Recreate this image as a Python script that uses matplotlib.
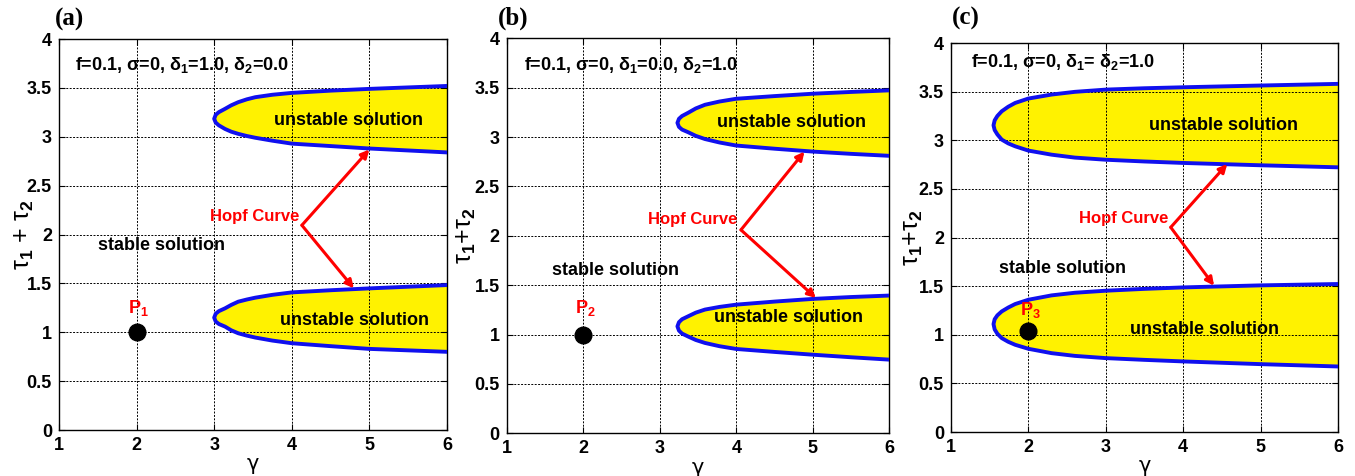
import matplotlib
matplotlib.use('Agg')
import matplotlib.pyplot as plt

plt.rcParams['font.family'] = ['Liberation Sans', 'DejaVu Sans']
plt.rcParams['font.weight'] = 'bold'
plt.rcParams['mathtext.fontset'] = 'custom'
plt.rcParams['mathtext.rm'] = 'Liberation Sans:bold'
plt.rcParams['mathtext.it'] = 'Liberation Sans:bold'
plt.rcParams['mathtext.bf'] = 'Liberation Sans:bold'

# ---- Hopf boundaries (gamma, tau1+tau2) for each case ----
# (a) delta1=1.0, delta2=0.0
gam_a = [3.0, 3.02, 3.06, 3.14, 3.22, 3.31, 3.42, 3.53, 3.75, 4.0, 4.5, 5.0, 5.5, 6.0]
top_hi_a = [3.184, 3.225, 3.252, 3.286, 3.322, 3.354, 3.383, 3.405, 3.43, 3.449, 3.472, 3.49, 3.505, 3.52]
top_lo_a = [3.184, 3.145, 3.117, 3.08, 3.052, 3.03, 3.008, 2.99, 2.96, 2.93, 2.905, 2.88, 2.86, 2.84]
bot_hi_a = [1.15, 1.19, 1.216, 1.245, 1.28, 1.313, 1.335, 1.354, 1.383, 1.408, 1.43, 1.449, 1.466, 1.483]
bot_lo_a = [1.15, 1.11, 1.085, 1.058, 1.02, 0.99, 0.966, 0.946, 0.915, 0.888, 0.858, 0.83, 0.815, 0.80]

# (b) delta1=0.0, delta2=1.0
gam_b = [3.23, 3.25, 3.29, 3.37, 3.47, 3.59, 3.78, 4.0, 4.5, 5.0, 5.5, 6.0]
top_hi_b = [3.144, 3.185, 3.213, 3.246, 3.29, 3.327, 3.36, 3.388, 3.415, 3.439, 3.457, 3.473]
top_lo_b = [3.144, 3.103, 3.076, 3.049, 3.012, 2.98, 2.945, 2.914, 2.882, 2.853, 2.83, 2.81]
bot_hi_b = [1.083, 1.125, 1.155, 1.185, 1.222, 1.253, 1.28, 1.303, 1.334, 1.361, 1.38, 1.395]
bot_lo_b = [1.083, 1.04, 1.01, 0.98, 0.945, 0.915, 0.882, 0.854, 0.824, 0.796, 0.77, 0.746]

# (c) delta1=delta2=1.0
gam_c = [1.55, 1.565, 1.6, 1.656, 1.74, 1.83, 2.0, 2.3, 2.6, 3.0, 3.5, 4.0, 5.0, 6.0]
top_hi_c = [3.154, 3.205, 3.25, 3.298, 3.345, 3.384, 3.429, 3.47, 3.498, 3.521, 3.535, 3.545, 3.563, 3.58]
top_lo_c = [3.154, 3.105, 3.06, 3.007, 2.968, 2.938, 2.894, 2.852, 2.822, 2.80, 2.782, 2.767, 2.743, 2.722]
bot_hi_c = [1.11, 1.16, 1.20, 1.24, 1.28, 1.316, 1.36, 1.405, 1.432, 1.453, 1.472, 1.487, 1.508, 1.522]
bot_lo_c = [1.11, 1.055, 1.01, 0.966, 0.928, 0.897, 0.856, 0.811, 0.783, 0.76, 0.742, 0.726, 0.698, 0.674]

# test points P1, P2, P3
pts = [(2.0, 1.0), (2.0, 1.0), (2.0, 1.034)]

xticks = [1, 2, 3, 4, 5, 6]
yticks = [0, 0.5, 1, 1.5, 2, 2.5, 3, 3.5, 4]
yticklabels = ['0', '0.5', '1', '1.5', '2', '2.5', '3', '3.5', '4']

params = ['f=0.1, σ=0, δ$_1$=1.0, δ$_2$=0.0',
          'f=0.1, σ=0, δ$_1$=0.0, δ$_2$=1.0',
          'f=0.1, σ=0, δ$_1$= δ$_2$=1.0']
ylabels = ['τ$_1$ + τ$_2$', 'τ$_1$+τ$_2$', 'τ$_1$+τ$_2$']

panels = [
    dict(gam=gam_a, lobes=[(top_hi_a, top_lo_a), (bot_hi_a, bot_lo_a)],
         pos=[0.0435, 0.0966, 0.2864, 0.8214], tag='(a)', tagx=-0.01, tagy=1.051,
         par=(1.21, 3.73), stable=(2.32, 1.89), uns=[(4.73, 3.167), (4.81, 1.116)],
         hopf_txt=(4.10, 2.18), vtx=(4.13, 2.095), tips=[(5.0, 2.87), (4.80, 1.449)],
         plab=(2.03, 1.25), ylx=-0.06),
    dict(gam=gam_b, lobes=[(top_hi_b, top_lo_b), (bot_hi_b, bot_lo_b)],
         pos=[0.374, 0.0897, 0.2824, 0.8298], tag='(b)', tagx=-0.023, tagy=1.051,
         par=(1.23, 3.73), stable=(2.42, 1.65), uns=[(4.72, 3.15), (4.68, 1.168)],
         hopf_txt=(4.01, 2.17), vtx=(4.06, 2.06), tips=[(4.89, 2.853), (5.04, 1.37)],
         plab=(2.03, 1.27), ylx=-0.075),
    dict(gam=gam_c, lobes=[(top_hi_c, top_lo_c), (bot_hi_c, bot_lo_c)],
         pos=[0.7018, 0.0924, 0.2856, 0.8172], tag='(c)', tagx=0.002, tagy=1.062,
         par=(1.26, 3.80), stable=(2.44, 1.686), uns=[(4.52, 3.154), (4.28, 1.05)],
         hopf_txt=(3.81, 2.20), vtx=(3.84, 2.105), tips=[(4.57, 2.756), (4.40, 1.504)],
         plab=(2.03, 1.25), ylx=-0.067),
]

fig = plt.figure(figsize=(13.55, 4.76), dpi=100)

for i, p in enumerate(panels):
    ax = fig.add_axes(p['pos'])
    g = p['gam']
    for hi, lo in p['lobes']:
        xs = g[::-1] + g[1:]
        ys = hi[::-1] + lo[1:]
        ax.fill(xs, ys, color='#fff200', zorder=1, lw=0)
        ax.plot(xs, ys, color='#1010ee', lw=2.8, zorder=3,
                solid_joinstyle='round', solid_capstyle='round')

    ax.plot(*pts[i], 'o', color='black', ms=12, zorder=5)
    ax.text(p['plab'][0], p['plab'][1], 'P$_%d$' % (i + 1), color='red',
            fontsize=13, ha='center', va='center', zorder=6)

    ax.text(p['par'][0], p['par'][1], params[i], fontsize=13, va='center', ha='left')
    ax.text(p['stable'][0], p['stable'][1], 'stable solution', fontsize=13,
            ha='center', va='center')
    for ux, uy in p['uns']:
        ax.text(ux, uy, 'unstable solution', fontsize=13, ha='center', va='center', zorder=6)

    ax.text(p['hopf_txt'][0], p['hopf_txt'][1], 'Hopf Curve', color='red',
            fontsize=12, ha='right', va='center')
    for tx, ty in p['tips']:
        ax.annotate('', xy=(tx, ty), xytext=p['vtx'],
                    arrowprops=dict(arrowstyle='-|>', color='red', lw=2.2,
                                    mutation_scale=12, shrinkA=0, shrinkB=0),
                    zorder=6)

    ax.set_xlim(1, 6)
    ax.set_ylim(0, 4)
    ax.set_xticks(xticks)
    ax.set_yticks(yticks)
    ax.set_yticklabels(yticklabels)
    ax.tick_params(direction='in', top=True, right=True, labelsize=13, pad=5, length=4)
    ax.set_axisbelow(False)
    ax.grid(True, color='black', ls=(0, (2, 1.5)), lw=0.7)
    for s in ax.spines.values():
        s.set_linewidth(1.0)

    ax.set_xlabel('γ', fontsize=15, fontweight='normal', family='DejaVu Sans')
    ax.xaxis.set_label_coords(0.5, -0.062)
    ax.set_ylabel(ylabels[i], fontsize=18)
    ax.yaxis.set_label_coords(p['ylx'], 0.5)

    ax.text(p['tagx'], p['tagy'], p['tag'], transform=ax.transAxes,
            family='Liberation Serif', fontsize=18, fontweight='bold',
            ha='left', va='center')

fig.savefig('out.png', dpi=100)
